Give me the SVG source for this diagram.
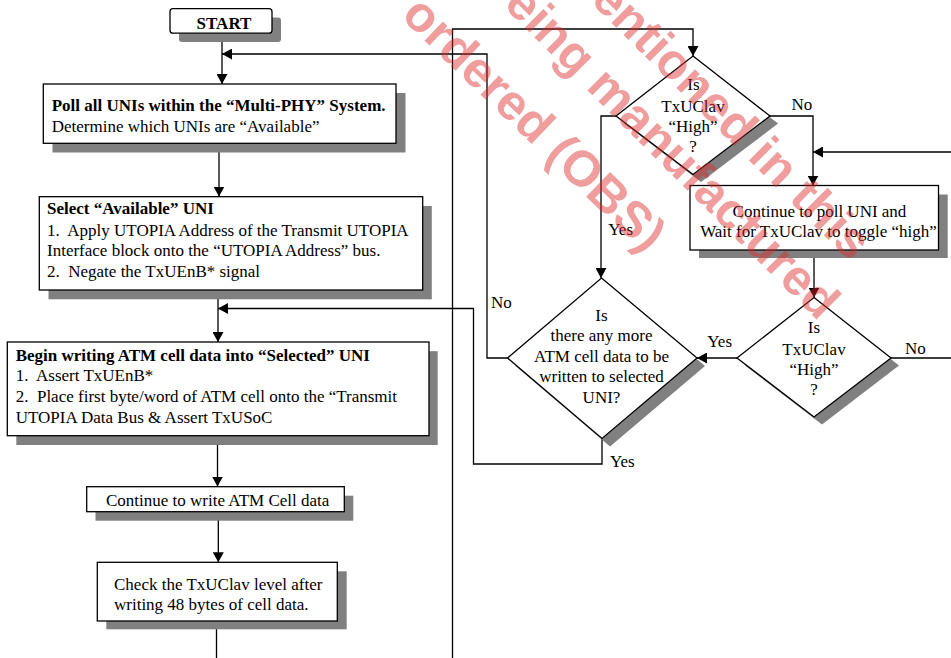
<svg xmlns="http://www.w3.org/2000/svg" width="951" height="658" viewBox="0 0 951 658">
<defs>
<marker id="arr" markerUnits="userSpaceOnUse" markerWidth="11" markerHeight="11" refX="10" refY="5.5" orient="auto">
<path d="M0,0 L10,5.5 L0,11 Z" fill="#000"/>
</marker>
</defs>
<style>
.box{fill:#fff;stroke:#000;stroke-width:1.3}
.sh{fill:#808080;stroke:none}
.t{font-family:"Liberation Serif","Times New Roman",serif;font-size:17px;fill:#000;white-space:pre}
.b{font-weight:bold}
.m{text-anchor:middle}
.c{fill:none;stroke:#000;stroke-width:1.3}
.a{marker-end:url(#arr)}
.wm{font-family:"Liberation Sans",Arial,sans-serif;font-size:50px;font-weight:bold;fill:#e02828;opacity:0.45}
</style>
<rect width="951" height="658" fill="#fff"/>

<g id="connectors">
<path class="c a" d="M222,33.5 V84"/>
<path class="c a" d="M219,143.5 V196.5"/>
<path class="c a" d="M218,290 V342"/>
<path class="c a" d="M217.5,435.5 V486.5"/>
<path class="c a" d="M218.3,511.5 V562.3"/>
<path class="c" d="M216.5,621 V660"/>
<path class="c a" d="M452.5,660 V29 H693 V56"/>
<path class="c a" d="M770,116 H813 V185.5"/>
<path class="c a" d="M616,116 H601 V278"/>
<path class="c a" d="M814,250 V297.5"/>
<path class="c a" d="M737,358 H697"/>
<path class="c a" d="M891,358 H965 V152 H813"/>
<path class="c a" d="M507.5,358 H487 V54 H222"/>
<path class="c a" d="M602,438.5 V464 H473.5 V308.5 H218"/>
</g>

<g id="start">
<rect class="sh" x="179" y="17.5" width="102" height="24.5" rx="3"/>
<rect class="box" x="170" y="8.7" width="102" height="24.5" rx="3"/>
<text class="t b m" x="224" y="28.5">START</text>
</g>

<g id="poll">
<rect class="sh" x="52.5" y="93" width="353" height="59.5"/>
<rect class="box" x="43.3" y="84" width="352.7" height="59.3"/>
<text class="t b" x="51.7" y="111">Poll all UNIs within the “Multi-PHY” System.</text>
<text class="t" x="51.7" y="131.5">Determine which UNIs are “Available”</text>
</g>

<g id="select">
<rect class="sh" x="48.5" y="206" width="383.3" height="93.3"/>
<rect class="box" x="39.3" y="196.7" width="383.4" height="93.3"/>
<text class="t b" x="47" y="214">Select “Available” UNI</text>
<text class="t" x="47" y="235.5">1.  Apply UTOPIA Address of the Transmit UTOPIA</text>
<text class="t" x="47" y="256">Interface block onto the “UTOPIA Address” bus.</text>
<text class="t" x="47" y="276.5">2.  Negate the TxUEnB* signal</text>
</g>

<g id="begin">
<rect class="sh" x="16.3" y="351.2" width="421.4" height="93.8"/>
<rect class="box" x="7.3" y="342" width="421.7" height="93.7"/>
<text class="t b" x="15.7" y="360.5">Begin writing ATM cell data into “Selected” UNI</text>
<text class="t" x="15.7" y="380.5">1.  Assert TxUEnB*</text>
<text class="t" x="15.7" y="401.5">2.  Place first byte/word of ATM cell onto the “Transmit</text>
<text class="t" x="15.7" y="422.5">UTOPIA Data Bus &amp; Assert TxUSoC</text>
</g>

<g id="continue-write">
<rect class="sh" x="95.5" y="495.7" width="257.8" height="25"/>
<rect class="box" x="86.7" y="486.7" width="257.6" height="25"/>
<text class="t m" x="217.7" y="505.5">Continue to write ATM Cell data</text>
</g>

<g id="check">
<rect class="sh" x="106.3" y="571.3" width="240.4" height="58"/>
<rect class="box" x="97.3" y="562.3" width="240" height="58.7"/>
<text class="t" x="114" y="589.5">Check the TxUClav level after</text>
<text class="t" x="114" y="609.5">writing 48 bytes of cell data.</text>
</g>

<g id="d1">
<polygon class="sh" points="701,63.5 778,123.5 701,182 624,123.5"/>
<polygon class="box" points="693,56 770,116 693,174.5 616,116"/>
<text class="t m" x="693.5" y="90">Is</text>
<text class="t m" x="693" y="111.5">TxUClav</text>
<text class="t m" x="693" y="131.5">“High”</text>
<text class="t m" x="693" y="151.5">?</text>
</g>

<g id="continue-poll">
<rect class="sh" x="699" y="194.5" width="248.7" height="63.5"/>
<rect class="box" x="690" y="185.5" width="248.5" height="64.5"/>
<text class="t m" x="819.5" y="216.5">Continue to poll UNI and</text>
<text class="t m" x="818.5" y="237">Wait for TxUClav to toggle “high”</text>
</g>

<g id="d2">
<polygon class="sh" points="609.5,286 705,366 610,446.5 515.5,366"/>
<polygon class="box" points="601.5,278 697,358 602,438.5 507.5,358"/>
<text class="t m" x="601.5" y="320.5">Is</text>
<text class="t m" x="601.5" y="341">there any more</text>
<text class="t m" x="601.5" y="361.5">ATM cell data to be</text>
<text class="t m" x="601.5" y="382">written to selected</text>
<text class="t m" x="601.5" y="402.5">UNI?</text>
</g>

<g id="d3">
<polygon class="sh" points="822,305 899,365.5 822,424.5 745,365.5"/>
<polygon class="box" points="814,297.5 891,358 814,417 737,358"/>
<text class="t m" x="814" y="333">Is</text>
<text class="t m" x="814" y="355">TxUClav</text>
<text class="t m" x="814" y="374.5">“High”</text>
<text class="t m" x="814" y="395">?</text>
</g>

<g id="labels">
<text class="t" x="791.5" y="110">No</text>
<text class="t" x="608.3" y="235">Yes</text>
<text class="t" x="491" y="307.5">No</text>
<text class="t" x="707.3" y="346.5">Yes</text>
<text class="t" x="905" y="353.5">No</text>
<text class="t" x="610" y="466.5">Yes</text>
</g>

<g id="watermark">
<text class="wm" transform="translate(400,17) rotate(44)">ordered (OBS)</text>
<text class="wm" transform="translate(481,-16) rotate(45)">being manufactured</text>
<text class="wm" transform="translate(558,-30.5) rotate(45)">mentioned in this</text>
</g>
</svg>
